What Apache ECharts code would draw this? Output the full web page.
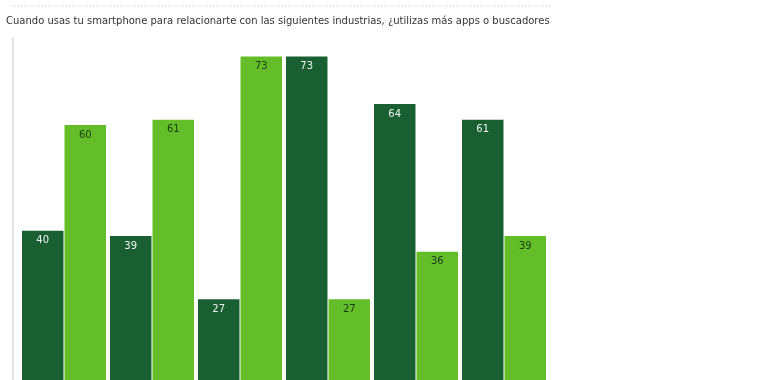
<!DOCTYPE html>
<html>
<head>
<meta charset="utf-8">
<script src="https://cdn.jsdelivr.net/npm/echarts@6/dist/echarts.min.js"></script>
<style>html,body{margin:0;padding:0;background:#fff}#c{width:770px;height:380px}</style>
</head>
<body>
<div id="c"></div>
<script>
var titleText = 'Cuando usas tu smartphone para relacionarte con las siguientes industrias, ¿utilizas más apps o buscadores';
var categories = ['1', '2', '3', '4', '5', '6'];
var seriesApps = [40, 39, 27, 73, 64, 61];
var seriesBuscadores = [60, 61, 73, 27, 36, 39];

var chart = echarts.init(document.getElementById('c'));
chart.setOption({
  animation: false,
  backgroundColor: '#fff',
  title: {
    text: titleText,
    left: 1, top: 11,
    textStyle: { fontFamily: 'DejaVu Sans', fontSize: 10, fontWeight: 'normal', color: '#333' }
  },
  graphic: [{
    type: 'line',
    shape: { x1: 12, y1: 6, x2: 551, y2: 6 },
    style: { stroke: '#c8c8c8', lineWidth: 1, lineDash: [1, 2] }
  }],
  grid: { left: 20, right: 222, top: 38, bottom: 0 },
  xAxis: {
    type: 'category', data: categories,
    axisLine: { show: false }, axisTick: { show: false }, axisLabel: { show: false }
  },
  yAxis: {
    type: 'value', min: 11.7, max: 76.5, offset: 7,
    axisLine: { show: true, lineStyle: { color: '#e2e2e2', width: 2 } },
    axisTick: { show: false }, axisLabel: { show: false }, splitLine: { show: false }
  },
  series: [{
    type: 'bar', data: seriesApps, barWidth: 41.5, barGap: '2.5%',
    itemStyle: { color: '#195f31' },
    label: { show: true, position: 'insideTop', distance: 5, color: '#eef5ee',
      fontFamily: 'DejaVu Sans', fontSize: 10 }
  }, {
    type: 'bar', data: seriesBuscadores, barWidth: 41.5,
    itemStyle: { color: '#64be2a' },
    label: { show: true, position: 'insideTop', distance: 5, color: '#1d3a12',
      fontFamily: 'DejaVu Sans', fontSize: 10 }
  }]
});
</script>
</body>
</html>
